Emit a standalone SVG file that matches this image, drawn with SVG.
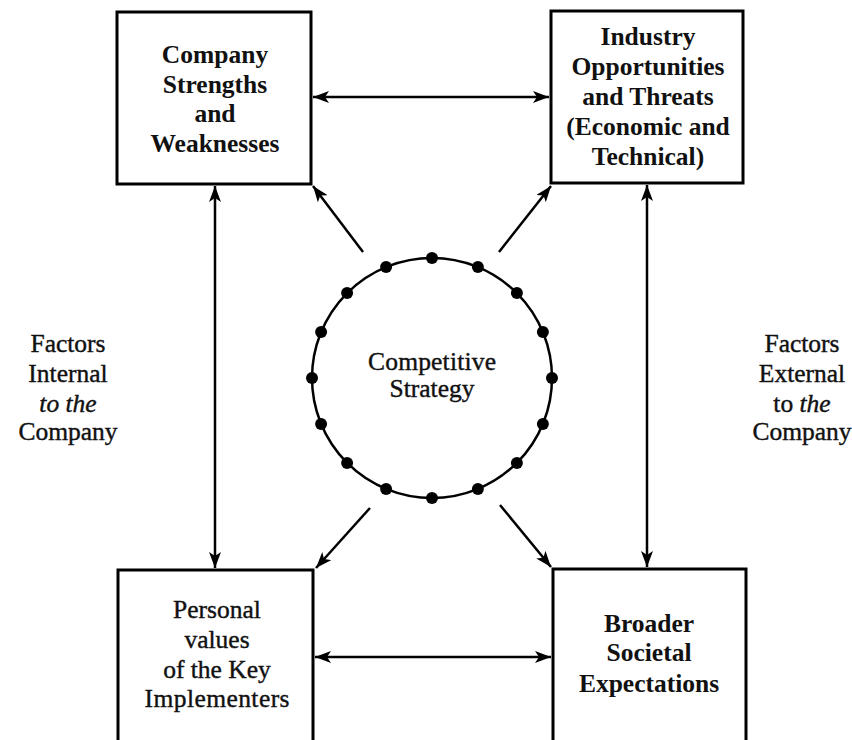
<svg xmlns="http://www.w3.org/2000/svg" width="852" height="740" viewBox="0 0 852 740">
<defs>
<style>
.box{fill:#fff;stroke:#000;stroke-width:3}
.b{font-family:"Liberation Serif","Times New Roman",serif;font-weight:bold;font-size:25.5px;text-anchor:middle;fill:#111}
.r{font-family:"Liberation Serif","Times New Roman",serif;font-size:25.5px;text-anchor:middle;fill:#111;stroke:#111;stroke-width:0.4}
.c{fill:none;stroke:#000;stroke-width:2.5;marker-start:url(#ah);marker-end:url(#ah)}
.s{fill:none;stroke:#000;stroke-width:2.5;marker-end:url(#ah)}
.dot{fill:#000}
</style>
<marker id="ah" viewBox="0 0 16 12" refX="16" refY="6" markerWidth="16" markerHeight="12" markerUnits="userSpaceOnUse" orient="auto-start-reverse">
<path d="M0,0 L16,6 L0,12 L4,6 Z" fill="#000"/>
</marker>
</defs>
<rect width="852" height="740" fill="#fff"/>
<g id="connectors">
<line class="c" x1="313" y1="97" x2="549" y2="97"/>
<line class="c" x1="215" y1="186" x2="215" y2="568"/>
<line class="c" x1="647" y1="185" x2="647" y2="567"/>
<line class="c" x1="315" y1="657" x2="551" y2="657"/>
<line class="s" x1="363" y1="252" x2="313" y2="186"/>
<line class="s" x1="499" y1="252" x2="551" y2="186"/>
<line class="s" x1="370" y1="508" x2="316" y2="568"/>
<line class="s" x1="500" y1="505" x2="551" y2="567"/>
</g>
<g id="company-strengths">
<rect class="box" x="117" y="12" width="194" height="172"/>
<text class="b" x="215" y="63">Company</text>
<text class="b" x="215" y="93">Strengths</text>
<text class="b" x="215" y="122">and</text>
<text class="b" x="215" y="152">Weaknesses</text>
</g>
<g id="industry-opportunities">
<rect class="box" x="551" y="11" width="192" height="172"/>
<text class="b" x="648" y="45">Industry</text>
<text class="b" x="648" y="75">Opportunities</text>
<text class="b" x="648" y="105">and Threats</text>
<text class="b" x="648" y="135">(Economic and</text>
<text class="b" x="648" y="165">Technical)</text>
</g>
<g id="personal-values">
<rect class="box" x="118" y="570" width="195" height="172"/>
<text class="r" x="217" y="618">Personal</text>
<text class="r" x="217" y="648">values</text>
<text class="r" x="217" y="678">of the Key</text>
<text class="r" x="217" y="707" textLength="145" lengthAdjust="spacing">Implementers</text>
</g>
<g id="societal-expectations">
<rect class="box" x="553" y="569" width="193" height="173"/>
<text class="b" x="649" y="632">Broader</text>
<text class="b" x="649" y="661">Societal</text>
<text class="b" x="649" y="692">Expectations</text>
</g>
<g id="competitive-strategy">
<circle cx="432" cy="378" r="120" fill="none" stroke="#000" stroke-width="2.5"/>
<g class="dot">
<circle cx="432.0" cy="258.0" r="6"/>
<circle cx="477.9" cy="267.1" r="6"/>
<circle cx="516.9" cy="293.1" r="6"/>
<circle cx="542.9" cy="332.1" r="6"/>
<circle cx="552.0" cy="378.0" r="6"/>
<circle cx="542.9" cy="423.9" r="6"/>
<circle cx="516.9" cy="462.9" r="6"/>
<circle cx="477.9" cy="488.9" r="6"/>
<circle cx="432.0" cy="498.0" r="6"/>
<circle cx="386.1" cy="488.9" r="6"/>
<circle cx="347.1" cy="462.9" r="6"/>
<circle cx="321.1" cy="423.9" r="6"/>
<circle cx="312.0" cy="378.0" r="6"/>
<circle cx="321.1" cy="332.1" r="6"/>
<circle cx="347.1" cy="293.1" r="6"/>
<circle cx="386.1" cy="267.1" r="6"/>
</g>
<text class="r" x="432" y="370" textLength="128" lengthAdjust="spacing">Competitive</text>
<text class="r" x="432" y="397">Strategy</text>
</g>
<g id="internal-label">
<text class="r" x="68" y="352">Factors</text>
<text class="r" x="68" y="382">Internal</text>
<text class="r" x="68" y="412" font-style="italic">to the</text>
<text class="r" x="68" y="440">Company</text>
</g>
<g id="external-label">
<text class="r" x="802" y="352">Factors</text>
<text class="r" x="802" y="382">External</text>
<text class="r" x="802" y="412">to <tspan font-style="italic">the</tspan></text>
<text class="r" x="802" y="440">Company</text>
</g>
</svg>
